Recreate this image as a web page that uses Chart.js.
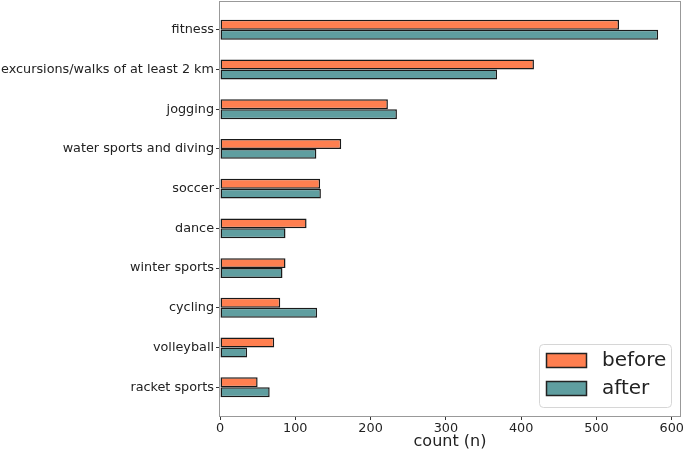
<!DOCTYPE html>
<html>
<head>
<meta charset="utf-8">
<script src="https://cdn.jsdelivr.net/npm/chart.js@4.4.0/dist/chart.umd.min.js"></script>
<style>
  html, body { margin: 0; padding: 0; background: #fff; }
</style>
</head>
<body>
<canvas id="c" width="685" height="451"></canvas>
<script>
// categories, top to bottom
const categorias = ['fitness', 'excursions/walks of at least 2 km', 'jogging', 'water sports and diving',
  'soccer', 'dance', 'winter sports', 'cycling', 'volleyball', 'racket sports'];
const antes = [530, 417, 223, 161, 133, 115, 87, 80, 72, 50];
const depois = [582, 368, 235, 128, 134, 87, 83, 129, 36, 66];
const xTicks = [0, 100, 200, 300, 400, 500, 600];

const FONTE = 'DejaVu Sans';

// moldura do eixo (4 lados) + legenda dentro do gráfico, canto inferior direito
const molduraLegenda = {
  id: 'molduraLegenda',
  afterDraw(chart) {
    const ctx = chart.ctx, a = chart.chartArea;
    ctx.save();
    ctx.strokeStyle = '#999';
    ctx.lineWidth = 1;
    ctx.strokeRect(Math.round(a.left) - 0.5, Math.round(a.top) + 0.5,
                   Math.round(a.right - a.left) + 1, Math.round(a.bottom - a.top));

    const x0 = 539, y0 = 344, w = 132, h = 63;
    ctx.beginPath();
    ctx.roundRect(x0 + 0.5, y0 + 0.5, w, h, 4);
    ctx.fillStyle = 'rgba(255,255,255,0.8)';
    ctx.fill();
    ctx.strokeStyle = '#d6d6d6';
    ctx.stroke();
    chart.data.datasets.forEach((d, i) => {
      const y = y0 + 9 + i * 28;
      ctx.fillStyle = d.backgroundColor;
      ctx.fillRect(x0 + 7.5, y + 0.5, 40, 14);
      ctx.strokeStyle = '#222';
      ctx.lineWidth = 1.5;
      ctx.strokeRect(x0 + 7.5, y + 0.5, 40, 14);
      ctx.font = '20px ' + FONTE;
      ctx.fillStyle = '#222';
      ctx.textBaseline = 'middle';
      ctx.textAlign = 'left';
      ctx.fillText(d.label, x0 + 63, y + 8);
    });
    ctx.restore();
  }
};

new Chart(document.getElementById('c'), {
  type: 'bar',
  data: {
    datasets: [
      { label: 'before', data: antes.map((v, i) => ({ x: v, y: i })), backgroundColor: '#FF7F50' },
      { label: 'after', data: depois.map((v, i) => ({ x: v, y: i })), backgroundColor: '#5F9EA0' }
    ].map(d => ({ ...d, borderColor: '#1a1a1a', borderWidth: 1.5, borderSkipped: false,
                  categoryPercentage: 0.5, barPercentage: 1.0 }))
  },
  options: {
    indexAxis: 'y',
    responsive: false, animation: false,
    devicePixelRatio: 1,
    layout: { padding: { top: 1, right: 4, left: 0, bottom: 0 } },
    plugins: { legend: { display: false }, tooltip: { enabled: false } },
    scales: {
      x: {
        type: 'linear', min: 0, max: 611,
        afterBuildTicks: s => { s.ticks = xTicks.map(v => ({ value: v })); },
        afterFit: s => { s.height = 35; },
        grid: { display: true, drawOnChartArea: false, drawTicks: true, tickLength: 4, tickColor: '#333' },
        border: { display: false },
        ticks: { color: '#222', font: { family: FONTE, size: 12.8 }, padding: 1, maxRotation: 0, autoSkip: false },
        title: { display: true, text: 'count (n)', color: '#222', font: { family: FONTE, size: 16 }, padding: { top: -2, bottom: 0 } }
      },
      y: {
        type: 'linear', min: -0.725, max: 9.725, reverse: true,
        offset: false,
        afterBuildTicks: s => { s.ticks = categorias.map((c, i) => ({ value: i })); },
        afterFit: s => { s.width = 220; s.paddingTop = 0; s.paddingBottom = 0; },
        grid: { display: true, offset: false, drawOnChartArea: false, drawTicks: true, tickLength: 4, tickColor: '#333' },
        border: { display: false },
        ticks: { color: '#222', font: { family: FONTE, size: 12.8 }, padding: 2, autoSkip: false,
                 callback: v => categorias[v] }
      }
    }
  },
  plugins: [molduraLegenda]
});
</script>
</body>
</html>
